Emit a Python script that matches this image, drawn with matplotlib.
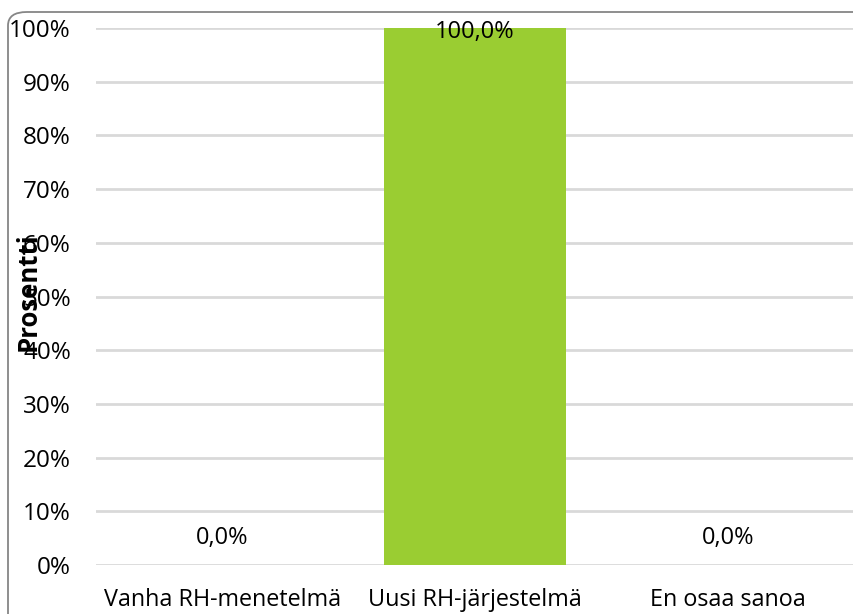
import matplotlib.pyplot as plt
from matplotlib.patches import FancyBboxPatch

categories = ["Vanha RH-menetelmä", "Uusi RH-järjestelmä", "En osaa sanoa"]
values = [0.0, 100.0, 0.0]
yticks = [0, 10, 20, 30, 40, 50, 60, 70, 80, 90, 100]

plt.rcParams['font.family'] = ['Open Sans', 'DejaVu Sans']

W, H = 854, 614
fig = plt.figure(figsize=(W / 100, H / 100), dpi=100)
ax = fig.add_axes([96 / W, 1 - 565 / H, 1 - 96 / W, (565 - 28) / H])

# rounded chart border, Excel style
border = FancyBboxPatch((8 / W, -20 / H), (W + 20 - 8) / W, (H + 20 - 12) / H,
                        boxstyle="round,pad=0,rounding_size=0.022",
                        transform=fig.transFigure, fill=False,
                        edgecolor='#868686', linewidth=1.3, zorder=10)
fig.patches.append(border)

x = range(len(categories))
ax.bar(x, values, width=0.72, color='#9ACD32', zorder=3)

for i, v in enumerate(values):
    lbl = f"{v:.1f}".replace('.', ',') + "%"
    if v >= 50:
        ax.annotate(lbl, (i, v), xytext=(0, -3), textcoords='offset points',
                    ha='center', va='center', fontsize=17, zorder=4)
    else:
        ax.annotate(lbl, (i, v), xytext=(0, 19.5), textcoords='offset points',
                    ha='center', va='center', fontsize=17, zorder=4)

ax.set_ylim(0, 100)
ax.set_xlim(-0.5, 2.5)
ax.set_yticks(yticks)
ax.set_yticklabels([f"{t}%" for t in yticks], fontsize=17.5)
ax.set_xticks(list(x))
ax.set_xticklabels(categories, fontsize=16.8)
ax.tick_params(axis='y', length=0, pad=18)
ax.tick_params(axis='x', length=0, pad=16.5)
ax.yaxis.grid(True, color='#D9D9D9', linewidth=2, zorder=0)
ax.set_axisbelow(True)
for s in ax.spines.values():
    s.set_visible(False)

ax.set_ylabel("Prosentti", fontsize=18.5, fontweight='bold', va='center')
ax.yaxis.set_label_coords(-(96 - 28.5) / (W - 96), 0.509)

fig.savefig("out.png", dpi=100)
